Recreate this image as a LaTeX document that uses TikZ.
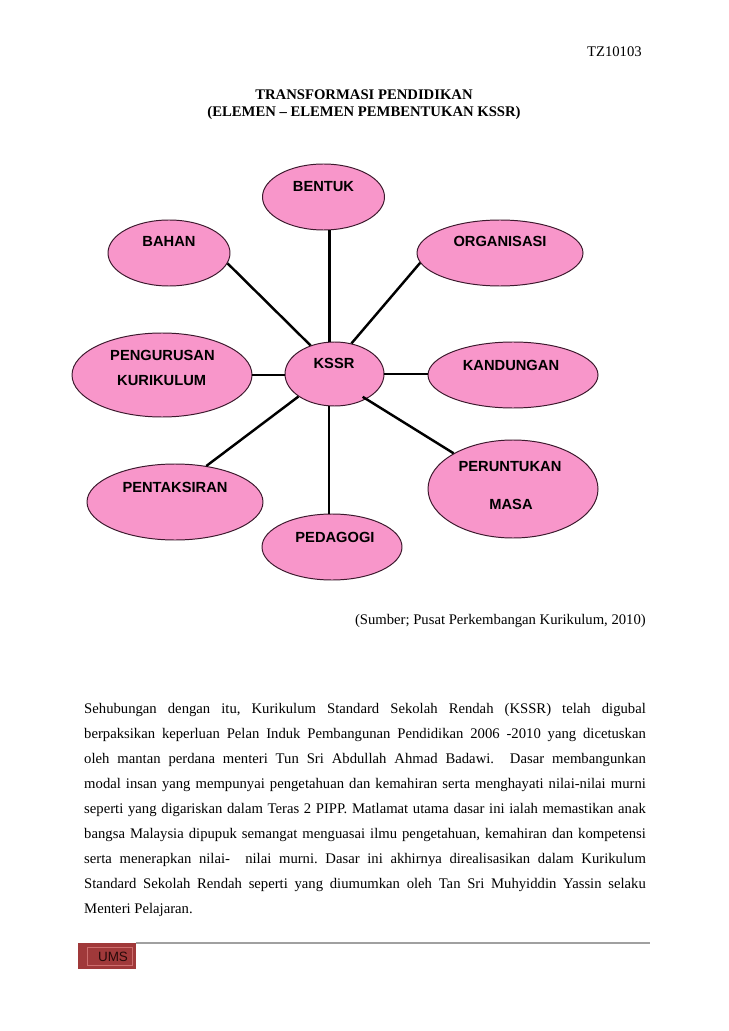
\documentclass[tikz,border=0pt]{standalone}
\usepackage{fontspec}
\setmainfont{Liberation Serif}
\newfontfamily\arialfont{Liberation Sans}
\usetikzlibrary{shapes.geometric,calc}
\definecolor{pinkfill}{RGB}{248,150,202}
\definecolor{ringline}{RGB}{60,25,45}
\definecolor{umsred}{RGB}{160,57,58}
\definecolor{umsinner}{RGB}{205,110,110}
\definecolor{rulegray}{RGB}{160,160,160}
\frenchspacing
\begin{document}
\begin{tikzpicture}[x=0.8173pt,y=-0.8173pt,
  bubble/.style 2 args={ellipse, draw=ringline, line width=0.8pt, fill=pinkfill,
    inner sep=0pt, minimum width={#1*1.6346pt}, minimum height={#2*1.6346pt}},
  lbl/.style={font=\arialfont\bfseries\fontsize{12}{14}\selectfont, inner sep=0pt, anchor=base, text=black},
  spoke/.style={line width=2pt, black},
  body/.style={anchor=base west, inner sep=0pt, font=\fontsize{12}{14}\selectfont},
  head/.style={anchor=base, inner sep=0pt, font=\bfseries\fontsize{12}{14}\selectfont},
]
\useasboundingbox[fill=white] (0,0) rectangle (728,1031);

% header
\node[anchor=base east, inner sep=0pt, font=\fontsize{12}{14}\selectfont] (tz) at (642,57) {TZ10103};
\node[head] (title1) at (364,100) {TRANSFORMASI PENDIDIKAN};
\node[head] (title2) at (364,117) {(ELEMEN – ELEMEN PEMBENTUKAN KSSR)};

% ellipses
\node[bubble={61}{33}] (bentuk) at (323.5,197) {};
\node[bubble={61}{33}] (bahan) at (169,253) {};
\node[bubble={83}{33}] (organisasi) at (500,253) {};
\node[bubble={90}{42}] (pengurusan) at (162,375) {};
\node[bubble={49.5}{32}] (kssr) at (334.5,374) {};
\node[bubble={85}{33}] (kandungan) at (513,375) {};
\node[bubble={88}{38}] (pentaksiran) at (175,502) {};
\node[bubble={85}{49}] (peruntukan) at (513,489) {};
\node[bubble={70}{33}] (pedagogi) at (332,547) {};

% labels
\node[lbl] (tbentuk) at (323.5,192) {BENTUK};
\node[lbl] (tbahan) at (169,247) {BAHAN};
\node[lbl] (torganisasi) at (500,247) {ORGANISASI};
\node[lbl, anchor=base west] (tpeng1) at (110,360) {PENGURUSAN};
\node[lbl, anchor=base west] (tpeng2) at (117,385) {KURIKULUM};
\node[lbl] (tkssr) at (334,368) {KSSR};
\node[lbl] (tkandungan) at (511,370) {KANDUNGAN};
\node[lbl] (tpentaksiran) at (175,492) {PENTAKSIRAN};
\node[lbl] (tperun1) at (510,471) {PERUNTUKAN};
\node[lbl] (tperun2) at (511,509) {MASA};
\node[lbl] (tpedagogi) at (335,542) {PEDAGOGI};

% spokes
\draw[spoke] (bentuk.-80.5) -- (bentuk.-80.5 |- kssr.north);
\draw[spoke] (pedagogi.95) -- (pedagogi.95 |- kssr.south);
\draw[spoke] (bahan.-10) -- (kssr.130);
\draw[spoke] (organisasi.187.5) -- (kssr.61);
\draw[spoke] (pengurusan.east) -- (pengurusan.east -| kssr.west);
\draw[spoke] (kssr.east) -- (kssr.east -| kandungan.west);
\draw[spoke] (pentaksiran.49) -- (kssr.212);
\draw[spoke] ($(kssr.center)!0.9!(kssr.-39)$) -- (peruntukan.149);

% source
\node[anchor=base east, inner sep=0pt, font=\fontsize{12}{14}\selectfont] (sumber) at (646,624) {(Sumber; Pusat Perkembangan Kurikulum, 2010)};

% body text
\node[body] (l1) at (84,713) {\makebox[459pt][s]{Sehubungan dengan itu, Kurikulum Standard Sekolah Rendah (KSSR) telah digubal}};
\node[body] (l2) at (84,738) {\makebox[459pt][s]{berpaksikan keperluan Pelan Induk Pembangunan Pendidikan 2006 -2010 yang dicetuskan}};
\node[body] (l3) at (84,763) {\makebox[459pt][s]{oleh mantan perdana menteri Tun Sri Abdullah Ahmad Badawi.~ Dasar membangunkan}};
\node[body] (l4) at (84,788) {\makebox[459pt][s]{modal insan yang mempunyai pengetahuan dan kemahiran serta menghayati nilai-nilai murni}};
\node[body] (l5) at (84,813) {\makebox[459pt][s]{seperti yang digariskan dalam Teras 2 PIPP. Matlamat utama dasar ini ialah memastikan anak}};
\node[body] (l6) at (84,838) {\makebox[459pt][s]{bangsa Malaysia dipupuk semangat menguasai ilmu pengetahuan, kemahiran dan kompetensi}};
\node[body] (l7) at (84,863) {\makebox[459pt][s]{serta menerapkan nilai-~ nilai murni. Dasar ini akhirnya direalisasikan dalam Kurikulum}};
\node[body] (l8) at (84,888) {\makebox[459pt][s]{Standard Sekolah Rendah seperti yang diumumkan oleh Tan Sri Muhyiddin Yassin selaku}};
\node[body] (l9) at (84,913) {Menteri Pelajaran.};

% footer
\node[rectangle, fill=umsred, inner sep=0pt, minimum width={58*0.8173pt}, minimum height={26*0.8173pt}, anchor=north west] (ums) at (78,943) {};
\node[rectangle, draw=umsinner, line width=0.4pt, inner sep=0pt, minimum width={45*0.8173pt}, minimum height={18*0.8173pt}] (umsin) at (109.5,956) {};
\node[inner sep=0pt, font=\arialfont\fontsize{11}{13}\selectfont, text={rgb,255:red,40;green,10;blue,10}] (umstxt) at (113,957) {UMS};
\coordinate (ruleend) at (650,943);
\draw[rulegray, line width=1.2pt] (ums.north east) -- (ruleend);
\end{tikzpicture}
\end{document}
